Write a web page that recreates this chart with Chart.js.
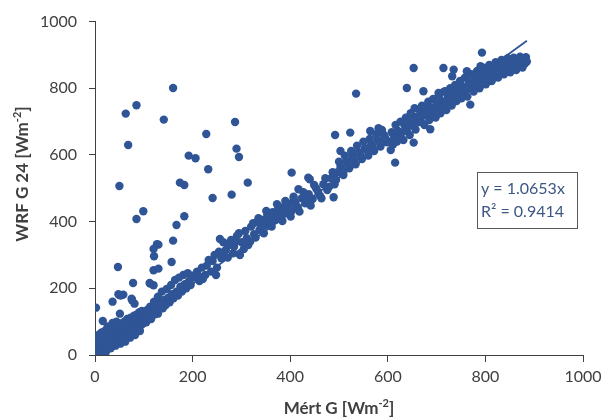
<!DOCTYPE html>
<html>
<head>
<meta charset="utf-8">
<title>WRF G 24 vs Mért G</title>
<script src="https://cdn.jsdelivr.net/npm/chart.js@4.4.1/dist/chart.umd.min.js"></script>
<style>
  html, body { margin: 0; padding: 0; background: #fff; }
  #wrap { width: 611px; height: 419px; }
</style>
</head>
<body>
<div id="wrap"><canvas id="chartG" width="611" height="419"></canvas></div>
<script>
// ============================= ADATOK =============================
// [mért G, WRF G 24] párok, W/m2

const nearZero = [
  [1,3],[2,10],[3,18],[4,6],[5,26],[6,14],[7,33],[8,9],[9,22],[10,41],[11,16],[12,30],[13,52],[14,24],
  [15,38],[16,12],[17,45],[18,60],[19,28],[20,19],[21,50],[22,36],[23,66],[24,27],[25,44],[26,58],
  [27,22],[28,35],[29,70],[30,48],[31,30],[32,62],[33,40],[34,55],[35,26],[36,74],[37,45],[38,33],
  [39,64],[40,52],[41,38],[42,80],[43,58],[44,46],[45,70],[46,35],[47,62],[48,88],[49,50],[50,42],
  [3,38],[6,48],[10,58],[14,68],[18,44],[24,75],[30,82],[5,55],[9,62],[20,72],[40,90],[44,100],
  [26,86],[36,96],[12,4],[22,8],[32,20],[42,28]
];

const lowBand = [
  [51,76],[52,58],[53,95],[54,48],[55,68],[56,84],[57,55],[58,44],[59,72],[60,100],[61,62],[62,50],
  [63,88],[64,70],[65,58],[66,108],[67,78],[68,64],[69,92],[70,55],[71,84],[72,70],[73,112],[74,96],
  [75,66],[76,80],[77,104],[78,88],[79,72],[80,118],[81,95],[82,78],[83,108],[84,90],[85,70],[86,122],
  [87,98],[88,84],[89,112],[90,94],[91,128],[92,104],[93,88],[94,116],[95,100],[96,132],[97,110],
  [98,94],[99,122],[100,106],[52,34],[62,40],[72,52],[82,60],[92,72],
  [102,115],[105,98],[107,135],[110,120],[113,145],[115,108],[118,130],[121,160],[123,122],[126,142],
  [129,175],[131,135],[134,152],[137,190],[139,140],[142,165],[145,150],[147,198],[150,172],[153,158],
  [156,210],[158,182],[161,170],[164,225],[167,190],[170,178],[172,232],[175,205],[178,190],[181,240],
  [184,212],[187,200],[190,245],[193,222],[196,210],[199,238]
];

const midBand = [
  [203,232],[209,250],[214,222],[219,262],[226,240],[233,285],[238,250],[245,300],[250,262],[256,348],
  [263,338],[259,290],[268,315],[272,292],[279,345],[285,325],[291,358],[297,300],[301,338],[308,372],
  [314,330],[320,385],[326,362],[332,398],[337,375],[342,405],[348,388],[353,420],[358,398],[364,428],
  [370,405],[376,440],[381,418],[387,445],[392,425],[398,452],[403,432],[410,458],[416,440],[424,470],
  [431,455],[438,482],[446,468],[453,500],[461,478],[468,512],[476,495],[484,530],[491,512],[497,548],
  [503,565],[509,540],[515,582],[521,560],[528,595],[534,572],[540,608],[547,588],[553,620],[560,598],
  [566,632],[572,612],[579,645],[585,625],[592,660],[598,638],
  [212,238],[221,228],[229,268],[241,282],[248,240],[254,310],[266,298],[275,330],[283,305],[289,340],
  [295,365],[305,318],[311,350],[318,340],[324,395],[329,352],[335,410],[340,390],[346,365],[351,432],
  [356,410],[362,385],[367,418],[373,452],[379,430],[384,402],[390,462],[395,438],[401,415],[407,475],
  [413,448],[419,430],[427,488],[434,465],[442,448],[449,510],[457,490],[464,470],[472,530],[480,505],
  [487,548],[494,525],[500,580],[506,555],[512,598],[518,572],[525,612],[531,585],[537,628],[544,600],
  [550,640],[557,615],[563,648],[569,625],[576,662],[582,640],[588,675],[595,650]
];

const highBand = [
  [603,640],[606,615],[608,668],[611,632],[613,655],[616,690],[619,640],[621,672],[624,650],[626,700],
  [629,668],[632,645],[634,690],[637,712],[639,672],[642,695],[645,660],[647,725],[650,688],[652,705],
  [655,740],[657,676],[660,715],[662,698],[665,735],[668,700],[670,748],[672,718],[675,690],[677,740],
  [680,722],[683,760],[685,705],[688,742],[690,725],[693,768],[695,735],[698,712],[700,755],[703,740],
  [705,780],[708,725],[710,762],[713,745],[715,790],[718,752],[720,735],[723,775],[725,760],[728,800],
  [731,748],[733,785],[736,770],[738,810],[741,762],[743,795],[746,780],[748,822],[751,770],[753,805],
  [756,788],[758,832],[761,795],[763,775],[766,818],[768,800],[771,842],[773,808],[776,790],[778,830],
  [781,812],[783,852],[786,820],[788,800],[791,842],[793,825],[796,862],[798,832],[801,812],[803,850],
  [806,835],[808,870],[811,840],[813,822],[816,858],[818,845],[821,878],[823,850],[826,832],[828,868],
  [831,852],[833,885],[836,858],[838,842],[841,875],[843,860],[846,890],[848,866],[851,848],[853,880],
  [856,865],[858,892],[861,872],[863,855],[866,884],[868,870],[871,895],[873,876],[876,862],[878,888],
  [881,874],[883,893],[885,880]
];

// a sávtól elszakadó pontok
const strays = [
  [2,142],[16,102],[36,160],[51,124],[51,179],[54,179],[48,182],[58,181],[76,164],[81,154],[78,216],
  [47,264],[75,169],[129,124],[126,159],[133,154],[113,214],[120,209],[112,216],[120,254],[130,259],
  [121,296],[157,279],[120,318],[127,332],[130,331],[160,343],[167,390],[183,416],[99,431],[85,408],
  [63,724],[68,630],[85,749],[141,706],[160,801],[50,507],[174,517],[183,510],[192,598],[206,590],
  [228,663],[232,557],[241,471],[280,481],[287,699],[290,619],[295,594],[313,517],
  [403,547],[407,468],[417,497],[437,532],[440,527],[489,473],[492,660],[523,667],[503,612],
  [564,672],[581,680],[615,577],[535,784],[653,637],[687,677],[769,751],
  [653,861],[714,861],[793,907],[639,801],[673,791],[704,786],[718,791],[735,856],[732,836],[762,851],
  [790,866]
];

const slope = 1.0653;
const rSquared = 0.9414;
const tickValues = [0, 200, 400, 600, 800, 1000];

// ============================= BEÁLLÍTÁSOK =============================
const blue = '#2f5597';
const axisColor = '#404040';
const fontFamily = 'Lato, "Open Sans", sans-serif';

const allPoints = [...nearZero, ...lowBand, ...midBand, ...highBand, ...strays]
  .map(([x, y]) => ({ x, y }));
const maxX = Math.max(...allPoints.map(p => p.x));
const trend = [{ x: 0, y: 0 }, { x: maxX, y: slope * maxX }];

// tengelyfeliratok felső indexszel (Wm-2)
function drawParts(ctx, parts, size) {
  const widths = parts.map(p => {
    ctx.font = 'bold ' + (p.sup ? Math.round(size * 0.62) : size) + 'px ' + fontFamily;
    return ctx.measureText(p.t).width;
  });
  let x = -widths.reduce((a, b) => a + b, 0) / 2;
  parts.forEach((p, i) => {
    ctx.font = 'bold ' + (p.sup ? Math.round(size * 0.62) : size) + 'px ' + fontFamily;
    ctx.fillText(p.t, x, p.sup ? -size * 0.35 : 0);
    x += widths[i];
  });
}

const titlesPlugin = {
  id: 'titles',
  afterDraw(chart) {
    const ctx = chart.ctx;
    const area = chart.chartArea;
    ctx.save();
    ctx.fillStyle = axisColor;
    ctx.textBaseline = 'middle';

    ctx.save();
    ctx.translate((area.left + area.right) / 2, 409);
    drawParts(ctx, [{ t: 'Mért G [Wm' }, { t: '-2', sup: true }, { t: ']' }], 17);
    ctx.restore();

    ctx.save();
    ctx.translate(23, 174);
    ctx.rotate(-Math.PI / 2);
    drawParts(ctx, [{ t: 'WRF G 24 [Wm' }, { t: '-2', sup: true }, { t: ']' }], 17);
    ctx.restore();

    // egyenlet doboz
    const bx = 477, by = 172, bw = 100, bh = 56;
    ctx.fillStyle = '#fff';
    ctx.fillRect(bx, by, bw, bh);
    ctx.strokeStyle = '#595959';
    ctx.lineWidth = 1;
    ctx.strokeRect(bx + 0.5, by + 0.5, bw, bh);
    ctx.fillStyle = '#3c5782';
    ctx.font = '16px ' + fontFamily;
    ctx.textAlign = 'left';
    ctx.fillText('y = ' + slope.toFixed(4) + 'x', bx + 4, by + 17);
    ctx.fillText('R² = ' + rSquared.toFixed(4), bx + 4, by + 40);
    ctx.restore();
  }
};

const scaleBase = {
  type: 'linear',
  min: 0,
  max: 1000,
  afterBuildTicks: scale => { scale.ticks = tickValues.map(v => ({ value: v })); },
  grid: { drawOnChartArea: false, drawTicks: true, tickLength: 6, color: axisColor },
  border: { display: true, color: axisColor, width: 1 },
  ticks: { color: axisColor, font: { family: fontFamily, size: 16 }, callback: v => String(v) }
};

new Chart(document.getElementById('chartG'), {
  type: 'scatter',
  data: {
    datasets: [
      {
        type: 'line',
        data: trend,
        borderColor: blue,
        borderWidth: 1.8,
        pointRadius: 0,
        fill: false,
        order: 0
      },
      {
        data: allPoints,
        backgroundColor: blue,
        borderWidth: 0,
        pointRadius: 4.2,
        order: 1
      }
    ]
  },
  options: {
    responsive: false,
    animation: false,
    layout: { padding: { top: 20, right: 28, left: 0, bottom: 0 } },
    plugins: { legend: { display: false }, tooltip: { enabled: false } },
    scales: {
      x: {
        ...scaleBase,
        position: 'bottom',
        grid: { ...scaleBase.grid, tickLength: 7 },
        ticks: { ...scaleBase.ticks, padding: 5, maxRotation: 0 },
        afterFit: scale => { scale.height = 64; }
      },
      y: {
        ...scaleBase,
        position: 'left',
        ticks: { ...scaleBase.ticks, padding: 12 },
        afterFit: scale => { scale.width = 95; }
      }
    }
  },
  plugins: [titlesPlugin]
});
</script>
</body>
</html>
